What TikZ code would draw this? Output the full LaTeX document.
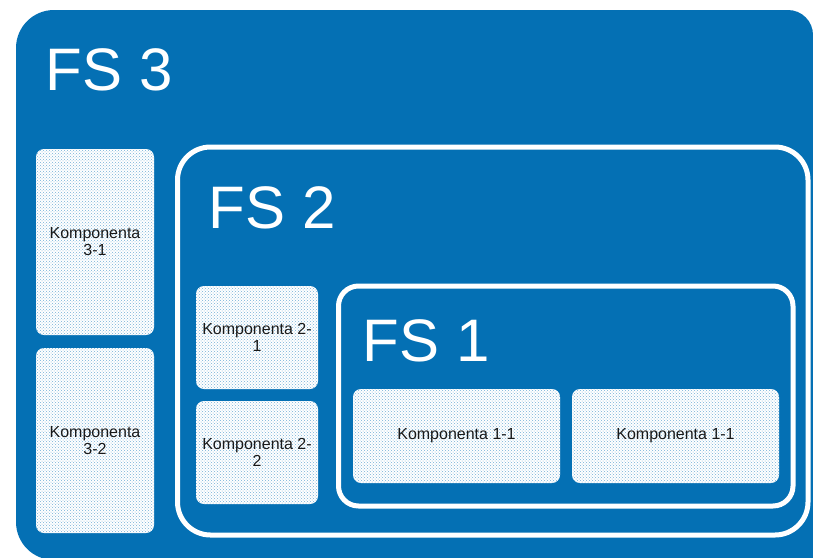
\documentclass[tikz,border=0pt]{standalone}
\usepackage{fontspec}
\setmainfont{Liberation Sans}
\usetikzlibrary{patterns}
\definecolor{fsblue}{RGB}{4,112,180}
\definecolor{komptext}{RGB}{25,25,25}

\begin{document}
\begin{tikzpicture}[x=1pt, y=-1pt,
    fsframe/.style={draw=white, line width=5pt, rounded corners=#1, inner sep=0pt},
    fstitle/.style={text=white, anchor=base west, inner sep=0pt, font=\fontsize{60}{60}\selectfont},
    komp/.style={rectangle, rounded corners=8pt, preaction={fill=white}, pattern=crosshatch dots,
      pattern color=fsblue!55, inner sep=0pt, align=center, text=komptext,
      font=\fontsize{16}{17}\selectfont}]
      \useasboundingbox (0,0) rectangle (813,557);
      \clip (0,0) rectangle (813,557);
      % FS 3
      \fill[fsblue] (813,560) [rounded corners=38pt] -- (16,560) -- (16,10)
        [rounded corners=25pt] -- (813,10) [sharp corners] -- (813,560) -- cycle;
      \node[fstitle] (fs3) at (45.5,90) {FS 3};
      \node[komp, minimum width=118pt, minimum height=186pt] (k31) at (95,242) {Komponenta\\3-1};
      \node[komp, minimum width=118pt, minimum height=185pt] (k32) at (95,440.5) {Komponenta\\3-2};
      %
      % FS 2
      \node[fsframe=33pt, minimum width=630.5pt, minimum height=388pt] (fs2) at (492.75,341) {};
      \node[fstitle] (fs2t) at (208.5,228) {FS 2};
      \node[komp, minimum width=122pt, minimum height=103pt] (k21) at (257,337.5) {Komponenta 2-\\1};
      \node[komp, minimum width=122pt, minimum height=103pt] (k22) at (257,452.5) {Komponenta 2-\\2};
      %
      % FS 1
      \node[fsframe=20pt, minimum width=454.5pt, minimum height=220pt] (fs1) at (565.75,396) {};
      \node[fstitle] (fs1t) at (362.5,361) {FS 1};
      \node[komp, minimum width=207pt, minimum height=94pt] (k11a) at (456.5,436) {Komponenta 1-1};
      \node[komp, minimum width=207pt, minimum height=94pt] (k11b) at (675.5,436) {Komponenta 1-1};
    \end{tikzpicture}
\end{document}
